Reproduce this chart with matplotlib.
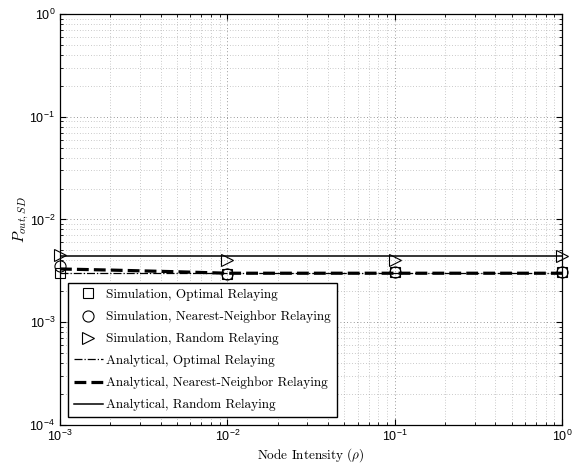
import matplotlib
matplotlib.use("Agg")
import matplotlib.pyplot as plt
import numpy as np

rho_sim = [1e-3, 1e-2, 1e-1, 1.0]
sim_opt = [3.0e-3, 2.97e-3, 3.05e-3, 3.05e-3]
sim_nn = [3.5e-3, 2.98e-3, 3.1e-3, 3.1e-3]
sim_rand = [4.5e-3, 4.05e-3, 4.0e-3, 4.4e-3]

rho_an = [1e-3, 2e-3, 5e-3, 1e-2, 1e-1, 1.0]
an_opt = [3.0e-3, 3.0e-3, 3.0e-3, 3.0e-3, 3.0e-3, 3.0e-3]
an_nn = [3.3e-3, 3.22e-3, 3.1e-3, 3.0e-3, 3.0e-3, 3.0e-3]
an_rand = [4.45e-3, 4.45e-3, 4.45e-3, 4.45e-3, 4.45e-3, 4.45e-3]

labels = ["Simulation, Optimal Relaying",
          "Simulation, Nearest-Neighbor Relaying",
          "Simulation, Random Relaying",
          "Analytical, Optimal Relaying",
          "Analytical, Nearest-Neighbor Relaying",
          "Analytical, Random Relaying"]

plt.rcParams['mathtext.fontset'] = 'cm'

fig = plt.figure(figsize=(5.77, 4.65), dpi=100)
ax = fig.add_axes([60/577, 1-425/465, 502/577, 411/465])

mk = dict(linestyle='none', mfc='none', mec='black', mew=0.8, clip_on=False, zorder=5)
h1, = ax.plot(rho_sim, sim_opt, marker='s', ms=6.5, label=labels[0], **mk)
h2, = ax.plot(rho_sim, sim_nn, marker='o', ms=8, label=labels[1], **mk)
h3, = ax.plot(rho_sim, sim_rand, marker='>', ms=9, label=labels[2], **mk)
h4, = ax.plot(rho_an, an_opt, color='black', ls='-.', lw=0.9, label=labels[3])
h5, = ax.plot(rho_an, an_nn, color='black', ls='--', lw=2.3, label=labels[4])
h6, = ax.plot(rho_an, an_rand, color='black', ls='-', lw=1.1, label=labels[5])

ax.set_xscale('log')
ax.set_yscale('log')
ax.set_xlim(1e-3, 1)
ax.set_ylim(1e-4, 1)

ax.grid(True, which='major', ls=(0, (1, 3)), color='#777777', lw=0.6)
ax.grid(True, which='minor', ls=(0, (1, 3)), color='#999999', lw=0.5)
ax.tick_params(which='both', direction='in', top=True, right=True)
ax.tick_params(which='major', length=4, labelsize=9)
ax.tick_params(which='minor', length=2)
ax.tick_params(axis='x', pad=3)
for lab in ax.get_xticklabels() + ax.get_yticklabels():
    lab.set_family('Liberation Sans')
for s in ax.spines.values():
    s.set_linewidth(0.9)

ax.set_xlabel(r"Node Intensity ($\rho$)", family='cmr10', fontsize=9.5, labelpad=1)
ax.set_ylabel(r"$P_{out,SD}$", fontsize=11)
ax.yaxis.set_label_coords(-0.058, 0.5)

leg = ax.legend(handles=[h1, h2, h3, h4, h5, h6], loc='lower left',
                bbox_to_anchor=(0.016, 0.019, 0.536, 0.324), mode='expand',
                prop={'family': 'cmr10', 'size': 9.5}, fancybox=False,
                edgecolor='black', framealpha=1, handlelength=2.2,
                handletextpad=0.2, borderaxespad=0, labelspacing=0.72,
                borderpad=0.45)
leg.get_frame().set_linewidth(1.0)

fig.savefig("out.png", dpi=100)
